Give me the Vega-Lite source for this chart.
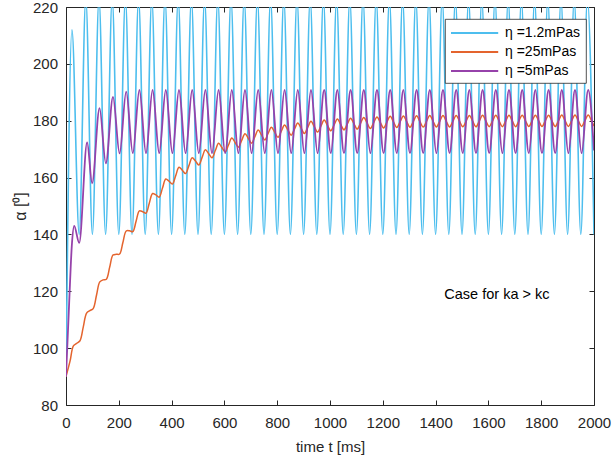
{
  "$schema": "https://vega.github.io/schema/vega-lite/v6.json",
  "width": 528,
  "height": 398,
  "autosize": {"type": "none"},
  "padding": {"left": 66, "top": 7, "right": 18, "bottom": 57},
  "background": "white",
  "config": {
    "view": {"stroke": null},
    "axis": {
      "domainColor": "#262626",
      "tickColor": "#262626",
      "labelColor": "#262626",
      "titleColor": "#262626",
      "labelFont": "Liberation Sans",
      "titleFont": "Liberation Sans",
      "labelFontSize": 15,
      "titleFontSize": 15,
      "titleFontWeight": "normal",
      "grid": false,
      "tickSize": -5,
      "domainWidth": 1,
      "tickWidth": 1,
      "labelOverlap": false,
      "labelFlush": false,
      "format": "d"
    },
    "legend": {
      "orient": "none",
      "legendX": 379,
      "legendY": 12,
      "fillColor": "white",
      "strokeColor": "#262626",
      "strokeWidth": 0.8,
      "padding": 5,
      "symbolType": "M-1,0H4.9",
      "symbolSize": 256,
      "symbolStrokeWidth": 1.8,
      "labelOffset": 37,
      "labelFontSize": 14,
      "labelFont": "Liberation Sans",
      "labelColor": "#000000",
      "rowPadding": 3,
      "title": null
    }
  },
  "datasets": {
    "cyan": [
      {"t": 0, "v": 90}, {"t": 22.5, "v": 212}, {"t": 50, "v": 140},
      {"t": 75, "v": 223}, {"t": 100, "v": 140}, {"t": 125, "v": 223}, {"t": 150, "v": 140},
      {"t": 175, "v": 223}, {"t": 200, "v": 140}, {"t": 225, "v": 223}, {"t": 250, "v": 140},
      {"t": 275, "v": 223}, {"t": 300, "v": 140}, {"t": 325, "v": 223}, {"t": 350, "v": 140},
      {"t": 375, "v": 223}, {"t": 400, "v": 140}, {"t": 425, "v": 223}, {"t": 450, "v": 140},
      {"t": 475, "v": 223}, {"t": 500, "v": 140}, {"t": 525, "v": 223}, {"t": 550, "v": 140},
      {"t": 575, "v": 223}, {"t": 600, "v": 140}, {"t": 625, "v": 223}, {"t": 650, "v": 140},
      {"t": 675, "v": 223}, {"t": 700, "v": 140}, {"t": 725, "v": 223}, {"t": 750, "v": 140},
      {"t": 775, "v": 223}, {"t": 800, "v": 140}, {"t": 825, "v": 223}, {"t": 850, "v": 140},
      {"t": 875, "v": 223}, {"t": 900, "v": 140}, {"t": 925, "v": 223}, {"t": 950, "v": 140},
      {"t": 975, "v": 223}, {"t": 1000, "v": 140}, {"t": 1025, "v": 223}, {"t": 1050, "v": 140},
      {"t": 1075, "v": 223}, {"t": 1100, "v": 140}, {"t": 1125, "v": 223}, {"t": 1150, "v": 140},
      {"t": 1175, "v": 223}, {"t": 1200, "v": 140}, {"t": 1225, "v": 223}, {"t": 1250, "v": 140},
      {"t": 1275, "v": 223}, {"t": 1300, "v": 140}, {"t": 1325, "v": 223}, {"t": 1350, "v": 140},
      {"t": 1375, "v": 223}, {"t": 1400, "v": 140}, {"t": 1425, "v": 223}, {"t": 1450, "v": 140},
      {"t": 1475, "v": 223}, {"t": 1500, "v": 140}, {"t": 1525, "v": 223}, {"t": 1550, "v": 140},
      {"t": 1575, "v": 223}, {"t": 1600, "v": 140}, {"t": 1625, "v": 223}, {"t": 1650, "v": 140},
      {"t": 1675, "v": 223}, {"t": 1700, "v": 140}, {"t": 1725, "v": 223}, {"t": 1750, "v": 140},
      {"t": 1775, "v": 223}, {"t": 1800, "v": 140}, {"t": 1825, "v": 223}, {"t": 1850, "v": 140},
      {"t": 1875, "v": 223}, {"t": 1900, "v": 140}, {"t": 1925, "v": 223}, {"t": 1950, "v": 140},
      {"t": 1975, "v": 223}, {"t": 2000, "v": 140}
    ],
    "orange": [
      {"t": 0, "v": 90}, {"t": 15.5, "v": 95.5}, {"t": 28, "v": 100.8}, {"t": 40.5, "v": 101.7},
      {"t": 53, "v": 102.6}, {"t": 65.5, "v": 107.5}, {"t": 78, "v": 112.3}, {"t": 90.5, "v": 113.2},
      {"t": 103, "v": 113.9}, {"t": 115.5, "v": 118.6}, {"t": 128, "v": 123.3}, {"t": 140.5, "v": 124},
      {"t": 153, "v": 124.25}, {"t": 165.5, "v": 128.5}, {"t": 178, "v": 132.75}, {"t": 190.5, "v": 133},
      {"t": 203, "v": 133.1}, {"t": 215.5, "v": 137.15}, {"t": 228, "v": 141.2}, {"t": 240.5, "v": 141.3},
      {"t": 253, "v": 141.0}, {"t": 265.5, "v": 144.65}, {"t": 278, "v": 148.3}, {"t": 290.5, "v": 148},
      {"t": 303, "v": 147.5}, {"t": 315.5, "v": 151}, {"t": 328, "v": 154.4}, {"t": 340.5, "v": 153.9},
      {"t": 353, "v": 153.1}, {"t": 365.5, "v": 156.3}, {"t": 378, "v": 159.5}, {"t": 390.5, "v": 158.7},
      {"t": 403, "v": 157.7}, {"t": 415.5, "v": 160.65}, {"t": 428, "v": 163.6}, {"t": 440.5, "v": 162.6},
      {"t": 453, "v": 161.4}, {"t": 465.5, "v": 164.2}, {"t": 478, "v": 167.0}, {"t": 490.5, "v": 165.8},
      {"t": 503, "v": 164.45}, {"t": 515.5, "v": 167.1}, {"t": 528, "v": 169.75}, {"t": 540.5, "v": 168.4},
      {"t": 553, "v": 166.95}, {"t": 565.5, "v": 169.5}, {"t": 578, "v": 172.05}, {"t": 590.5, "v": 170.6},
      {"t": 603, "v": 169.05}, {"t": 615.5, "v": 171.5}, {"t": 628, "v": 173.9}, {"t": 640.5, "v": 172.35},
      {"t": 653, "v": 170.7}, {"t": 665.5, "v": 173.1}, {"t": 678, "v": 175.45}, {"t": 690.5, "v": 173.8},
      {"t": 703, "v": 172.1}, {"t": 715.5, "v": 174.4}, {"t": 728, "v": 176.7}, {"t": 740.5, "v": 175.0},
      {"t": 753, "v": 173.25}, {"t": 765.5, "v": 175.5}, {"t": 778, "v": 177.7}, {"t": 790.5, "v": 175.95},
      {"t": 803, "v": 174.15}, {"t": 815.5, "v": 176.3}, {"t": 828, "v": 178.5}, {"t": 840.5, "v": 176.7},
      {"t": 853, "v": 174.9}, {"t": 865.5, "v": 177.05}, {"t": 878, "v": 179.2}, {"t": 890.5, "v": 177.4},
      {"t": 903, "v": 175.5}, {"t": 915.5, "v": 177.65}, {"t": 928, "v": 179.8}, {"t": 940.5, "v": 177.9},
      {"t": 953, "v": 176.0}, {"t": 965.5, "v": 178.1}, {"t": 978, "v": 180.25}, {"t": 990.5, "v": 178.35},
      {"t": 1003, "v": 176.45}, {"t": 1015.5, "v": 178.5}, {"t": 1028, "v": 180.6}, {"t": 1040.5, "v": 178.7},
      {"t": 1053, "v": 176.8}, {"t": 1065.5, "v": 178.85}, {"t": 1078, "v": 180.9}, {"t": 1090.5, "v": 179.0},
      {"t": 1103, "v": 177.05}, {"t": 1115.5, "v": 179.1}, {"t": 1128, "v": 181.15}, {"t": 1140.5, "v": 179.2},
      {"t": 1153, "v": 177.25}, {"t": 1165.5, "v": 179.3}, {"t": 1178, "v": 181.35}, {"t": 1190.5, "v": 179.4},
      {"t": 1203, "v": 177.45}, {"t": 1215.5, "v": 179.5}, {"t": 1228, "v": 181.55}, {"t": 1240.5, "v": 179.6},
      {"t": 1253, "v": 177.6}, {"t": 1265.5, "v": 179.65}, {"t": 1278, "v": 181.7}, {"t": 1290.5, "v": 179.7},
      {"t": 1303, "v": 177.7}, {"t": 1315.5, "v": 179.7}, {"t": 1328, "v": 181.75}, {"t": 1340.5, "v": 179.75},
      {"t": 1353, "v": 177.75}, {"t": 1365.5, "v": 179.75}, {"t": 1378, "v": 181.8}, {"t": 1390.5, "v": 179.8},
      {"t": 1403, "v": 177.8}, {"t": 1415.5, "v": 179.8}, {"t": 1428, "v": 181.8}, {"t": 1440.5, "v": 179.8},
      {"t": 1453, "v": 177.8}, {"t": 1465.5, "v": 179.85}, {"t": 1478, "v": 181.85}, {"t": 1490.5, "v": 179.85},
      {"t": 1503, "v": 177.85}, {"t": 1515.5, "v": 179.85}, {"t": 1528, "v": 181.85}, {"t": 1540.5, "v": 179.85},
      {"t": 1553, "v": 177.85}, {"t": 1565.5, "v": 179.9}, {"t": 1578, "v": 181.9}, {"t": 1590.5, "v": 179.9},
      {"t": 1603, "v": 177.9}, {"t": 1615.5, "v": 179.9}, {"t": 1628, "v": 181.9}, {"t": 1640.5, "v": 179.9},
      {"t": 1653, "v": 177.9}, {"t": 1665.5, "v": 179.9}, {"t": 1678, "v": 181.9}, {"t": 1690.5, "v": 179.9},
      {"t": 1703, "v": 177.9}, {"t": 1715.5, "v": 179.95}, {"t": 1728, "v": 181.95}, {"t": 1740.5, "v": 179.95},
      {"t": 1753, "v": 177.95}, {"t": 1765.5, "v": 179.95}, {"t": 1778, "v": 181.95}, {"t": 1790.5, "v": 179.95},
      {"t": 1803, "v": 177.95}, {"t": 1815.5, "v": 179.95}, {"t": 1828, "v": 181.95}, {"t": 1840.5, "v": 179.95},
      {"t": 1853, "v": 177.95}, {"t": 1865.5, "v": 180}, {"t": 1878, "v": 182}, {"t": 1890.5, "v": 180},
      {"t": 1903, "v": 178}, {"t": 1915.5, "v": 180}, {"t": 1928, "v": 182}, {"t": 1940.5, "v": 180},
      {"t": 1953, "v": 178}, {"t": 1965.5, "v": 180}, {"t": 1978, "v": 182}, {"t": 1990.5, "v": 180},
      {"t": 2000, "v": 178.1}
    ],
    "purple": [
      {"t": 0, "v": 90}, {"t": 12, "v": 116}, {"t": 22, "v": 136}, {"t": 31, "v": 143},
      {"t": 50, "v": 137}, {"t": 80, "v": 172.4}, {"t": 99, "v": 158}, {"t": 127, "v": 184.4},
      {"t": 151, "v": 165}, {"t": 178, "v": 188.4}, {"t": 203, "v": 168.5}, {"t": 228, "v": 190.2},
      {"t": 253, "v": 168.6}, {"t": 278, "v": 190.8}, {"t": 303, "v": 168.6}, {"t": 328, "v": 190.8},
      {"t": 353, "v": 168.6}, {"t": 378, "v": 190.8}, {"t": 403, "v": 168.6}, {"t": 428, "v": 190.8},
      {"t": 453, "v": 168.6}, {"t": 478, "v": 190.8}, {"t": 503, "v": 168.6}, {"t": 528, "v": 190.8},
      {"t": 553, "v": 168.6}, {"t": 578, "v": 190.8}, {"t": 603, "v": 168.6}, {"t": 628, "v": 190.8},
      {"t": 653, "v": 168.6}, {"t": 678, "v": 190.8}, {"t": 703, "v": 168.6}, {"t": 728, "v": 190.8},
      {"t": 753, "v": 168.6}, {"t": 778, "v": 190.8}, {"t": 803, "v": 168.6}, {"t": 828, "v": 190.8},
      {"t": 853, "v": 168.6}, {"t": 878, "v": 190.8}, {"t": 903, "v": 168.6}, {"t": 928, "v": 190.8},
      {"t": 953, "v": 168.6}, {"t": 978, "v": 190.8}, {"t": 1003, "v": 168.6}, {"t": 1028, "v": 190.8},
      {"t": 1053, "v": 168.6}, {"t": 1078, "v": 190.8}, {"t": 1103, "v": 168.6}, {"t": 1128, "v": 190.8},
      {"t": 1153, "v": 168.6}, {"t": 1178, "v": 190.8}, {"t": 1203, "v": 168.6}, {"t": 1228, "v": 190.8},
      {"t": 1253, "v": 168.6}, {"t": 1278, "v": 190.8}, {"t": 1303, "v": 168.6}, {"t": 1328, "v": 190.8},
      {"t": 1353, "v": 168.6}, {"t": 1378, "v": 190.8}, {"t": 1403, "v": 168.6}, {"t": 1428, "v": 190.8},
      {"t": 1453, "v": 168.6}, {"t": 1478, "v": 190.8}, {"t": 1503, "v": 168.6}, {"t": 1528, "v": 190.8},
      {"t": 1553, "v": 168.6}, {"t": 1578, "v": 190.8}, {"t": 1603, "v": 168.6}, {"t": 1628, "v": 190.8},
      {"t": 1653, "v": 168.6}, {"t": 1678, "v": 190.8}, {"t": 1703, "v": 168.6}, {"t": 1728, "v": 190.8},
      {"t": 1753, "v": 168.6}, {"t": 1778, "v": 190.8}, {"t": 1803, "v": 168.6}, {"t": 1828, "v": 190.8},
      {"t": 1853, "v": 168.6}, {"t": 1878, "v": 190.8}, {"t": 1903, "v": 168.6}, {"t": 1928, "v": 190.8},
      {"t": 1953, "v": 168.6}, {"t": 1978, "v": 190.8}, {"t": 2000, "v": 169.5}
    ],
    "note": [{"t": 1433, "v": 118.7, "label": "Case for ka > kc"}]
  },
  "layer": [
    {
      "data": {"name": "cyan"},
      "mark": {"type": "line", "interpolate": "monotone", "clip": true, "strokeWidth": 1.6},
      "encoding": {
        "x": {"field": "t", "type": "quantitative", "scale": {"domain": [0, 2000], "nice": false},
              "axis": {"orient": "bottom", "title": "time t [ms]", "values": [0,200,400,600,800,1000,1200,1400,1600,1800,2000], "labelPadding": 15, "titlePadding": 9}},
        "y": {"field": "v", "type": "quantitative", "scale": {"domain": [80, 220], "nice": false, "zero": false},
              "axis": {"orient": "left", "title": "α [⁰]", "titleFontSize": 16, "values": [80,100,120,140,160,180,200,220], "labelPadding": 13.5, "titlePadding": 4}},
        "color": {"datum": "η =1.2mPas", "type": "nominal",
                  "scale": {"domain": ["η =1.2mPas", "η =25mPas", "η =5mPas"], "range": ["#4DBEEE", "#E4642E", "#9642AA"]}}
      }
    },
    {
      "data": {"name": "orange"},
      "mark": {"type": "line", "interpolate": "catmull-rom", "clip": true, "strokeWidth": 1.5},
      "encoding": {
        "x": {"field": "t", "type": "quantitative", "scale": {"domain": [0, 2000], "nice": false}, "axis": null},
        "y": {"field": "v", "type": "quantitative", "scale": {"domain": [80, 220], "nice": false, "zero": false}, "axis": null},
        "color": {"datum": "η =25mPas", "type": "nominal"}
      }
    },
    {
      "data": {"name": "purple"},
      "mark": {"type": "line", "interpolate": "monotone", "clip": true, "strokeWidth": 1.8},
      "encoding": {
        "x": {"field": "t", "type": "quantitative", "scale": {"domain": [0, 2000], "nice": false}, "axis": null},
        "y": {"field": "v", "type": "quantitative", "scale": {"domain": [80, 220], "nice": false, "zero": false}, "axis": null},
        "color": {"datum": "η =5mPas", "type": "nominal"}
      }
    },
    {
      "data": {"name": "note"},
      "mark": {"type": "text", "align": "left", "baseline": "middle", "font": "Liberation Sans", "fontSize": 14.5, "color": "#000000"},
      "encoding": {
        "x": {"field": "t", "type": "quantitative", "scale": {"domain": [0, 2000], "nice": false},
              "axis": {"orient": "top", "title": null, "labels": false, "values": [0,200,400,600,800,1000,1200,1400,1600,1800,2000]}},
        "y": {"field": "v", "type": "quantitative", "scale": {"domain": [80, 220], "nice": false, "zero": false},
              "axis": {"orient": "right", "title": null, "labels": false, "values": [80,100,120,140,160,180,200,220]}},
        "text": {"field": "label"}
      }
    }
  ],
  "resolve": {"axis": {"x": "independent", "y": "independent"}}
}
